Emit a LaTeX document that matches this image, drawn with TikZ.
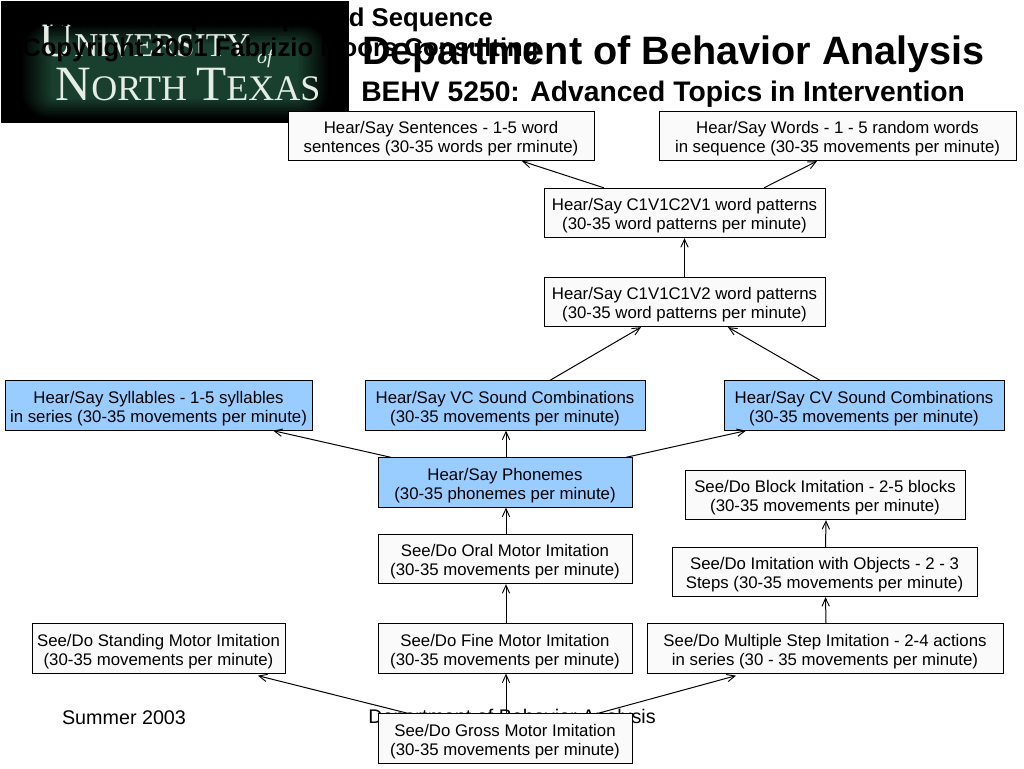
\documentclass[tikz,border=0pt]{standalone}
\usepackage{fontspec}
\setmainfont{Liberation Sans}
\newfontfamily\logofamily{Liberation Serif}
\usetikzlibrary{arrows.meta,calc}
\definecolor{boxwhite}{HTML}{FAFAFA}
\definecolor{boxblue}{HTML}{99CCFF}
\definecolor{glowgreen}{HTML}{1A4230}
\definecolor{logowhite}{HTML}{E4EEE6}
\newcommand\boxstrut{\rule{0pt}{13.2pt}}
\tikzset{
  x=0.75pt,y=-0.75pt,
  plainbox/.style={draw=black,line width=0.75pt,fill=boxwhite,align=center,font=\fontsize{12.6}{14.3}\selectfont,inner sep=0pt,minimum width=#1,minimum height=37pt},
  bluebox/.style={plainbox=#1,fill=boxblue},
  link/.style={draw=black,line width=0.75pt,-{Straight Barb[length=6pt,width=5.5pt,line width=0.7pt]}},
  footer/.style={font=\fontsize{14.8}{16}\selectfont,anchor=center,inner sep=0pt},
  headtext/.style={font=\bfseries\fontsize{#1}{#1}\selectfont,anchor=west,inner sep=0pt},
  logotext/.style={text=logowhite,inner sep=0pt,anchor=center}
}
\begin{document}
\begin{tikzpicture}
\useasboundingbox (0,0) rectangle (1024,768);
\fill[white] (0,0) rectangle (1024,768);
% logo
\fill[black] (1,1) rectangle (349,123);
\foreach \i in {0,1,...,14}{
  \pgfmathsetmacro\m{(\i+1)*100/15*0.95}
  \pgfmathsetmacro\d{\i*2.1}
  \pgfmathsetmacro\r{26-\i*1.5}
  \fill[glowgreen!\m!black,rounded corners=\r*0.75pt] (22+\d,25+\d*0.65) rectangle (328-\d,118-\d*0.65);
}
\node[logotext] (logoa) at (145,41) {\logofamily\fontsize{36}{36}\selectfont U\fontsize{25}{25}\selectfont NIVERSITY};
\node[logotext] (logob) at (265,59) {\logofamily\itshape\fontsize{15}{15}\selectfont of};
\node[logotext] (logoc) at (188,85) {\logofamily\fontsize{37}{37}\selectfont N\fontsize{27}{27}\selectfont ORTH \fontsize{37}{37}\selectfont T\fontsize{27}{27}\selectfont EXAS};
% headings
\node[headtext=19.25] (h1) at (22,20) {Imitation Sample Scope and Sequence};
\node[headtext=19.25] (h2) at (22,50) {Copyright 2001 Fabrizio Moors Consulting};
\node[headtext=29.7] (h3) at (362,54) {Department of Behavior Analysis};
\node[headtext=21.2] (h4) at (361,94) {BEHV 5250: Advanced Topics in Intervention};
% footers
\node[footer] (f1) at (124,718) {Summer 2003};
\node[footer] (f2) at (512,718) {Department of Behavior Analysis};
% boxes
\node[plainbox=229.5pt] (sentences) at (441,136) {\boxstrut Hear/Say Sentences - 1-5 word\\sentences (30-35 words per rminute)};
\node[plainbox=267.75pt] (words) at (837.5,136) {\boxstrut Hear/Say Words - 1 - 5 random words\\in sequence (30-35 movements per minute)};
\node[plainbox=210.75pt] (cvcv) at (684.5,213) {\boxstrut Hear/Say C1V1C2V1 word patterns\\(30-35 word patterns per minute)};
\node[plainbox=210.75pt] (cvcc) at (684.5,302) {\boxstrut Hear/Say C1V1C1V2 word patterns\\(30-35 word patterns per minute)};
\node[bluebox=230.25pt] (syllables) at (158.5,405.5) {\boxstrut Hear/Say Syllables - 1-5 syllables\\in series (30-35 movements per minute)};
\node[bluebox=210pt] (vc) at (505,405.5) {\boxstrut Hear/Say VC Sound Combinations\\(30-35 movements per minute)};
\node[bluebox=210pt] (cv) at (864,405.5) {\boxstrut Hear/Say CV Sound Combinations\\(30-35 movements per minute)};
\node[bluebox=190.5pt] (phonemes) at (505,482.5) {\boxstrut Hear/Say Phonemes\\(30-35 phonemes per minute)};
\node[plainbox=210pt] (block) at (825,495) {\boxstrut See/Do Block Imitation - 2-5 blocks\\(30-35 movements per minute)};
\node[plainbox=228.75pt] (objects) at (824.5,572) {\boxstrut See/Do Imitation with Objects - 2 - 3\\Steps (30-35 movements per minute)};
\node[plainbox=190.5pt] (oral) at (505,559) {\boxstrut See/Do Oral Motor Imitation\\(30-35 movements per minute)};
\node[plainbox=190.5pt] (fine) at (505,648.5) {\boxstrut See/Do Fine Motor Imitation\\(30-35 movements per minute)};
\node[plainbox=267pt] (multiple) at (825,648.5) {\boxstrut See/Do Multiple Step Imitation - 2-4 actions\\in series (30 - 35 movements per minute)};
\node[plainbox=189.75pt] (standing) at (158.5,648.5) {\boxstrut See/Do Standing Motor Imitation\\(30-35 movements per minute)};
% connectors
\draw[link] ([xshift=-60.4pt]cvcv.north) -- ([xshift=60.75pt]sentences.south);
\draw[link] ([xshift=59.6pt]cvcv.north) -- ([xshift=-15.4pt]words.south);
\draw[link] (cvcc.north) -- (cvcv.south);
\draw[link] ([xshift=33.75pt]vc.north) -- ([xshift=-32.6pt]cvcc.south);
\draw[link] ([xshift=-33pt]cv.north) -- ([xshift=32.6pt]cvcc.south);
\draw[link] ([xshift=-85.5pt]phonemes.north) -- ([xshift=86pt]syllables.south);
\draw[link] ([xshift=0.75pt]phonemes.north) -- ([xshift=0.75pt]vc.south);
\draw[link] ([xshift=90.75pt]phonemes.north) -- ([xshift=-88.5pt]cv.south);
\draw[link] ([xshift=0.75pt]oral.north) -- ([xshift=0.75pt]phonemes.south);
\draw[link] ([xshift=0.75pt]fine.north) -- ([xshift=0.75pt]oral.south);
\draw[link] ([xshift=0.75pt]multiple.north) -- ([xshift=0.75pt]objects.south);
\draw[link] ([xshift=0.75pt]objects.north) -- ([xshift=0.75pt]block.south);
\node[plainbox=190.5pt] (gross) at (505,738.5) {\boxstrut See/Do Gross Motor Imitation\\(30-35 movements per minute)};
\draw[link] ([xshift=0.75pt]gross.north) -- ([xshift=0.75pt]fine.south);
\draw[link] ([xshift=-72.75pt]gross.north) -- ([xshift=74.6pt,yshift=-1.5pt]standing.south);
\draw[link] ([xshift=69.75pt]gross.north) -- ([xshift=-66.75pt,yshift=-1.5pt]multiple.south);
\end{tikzpicture}
\end{document}
